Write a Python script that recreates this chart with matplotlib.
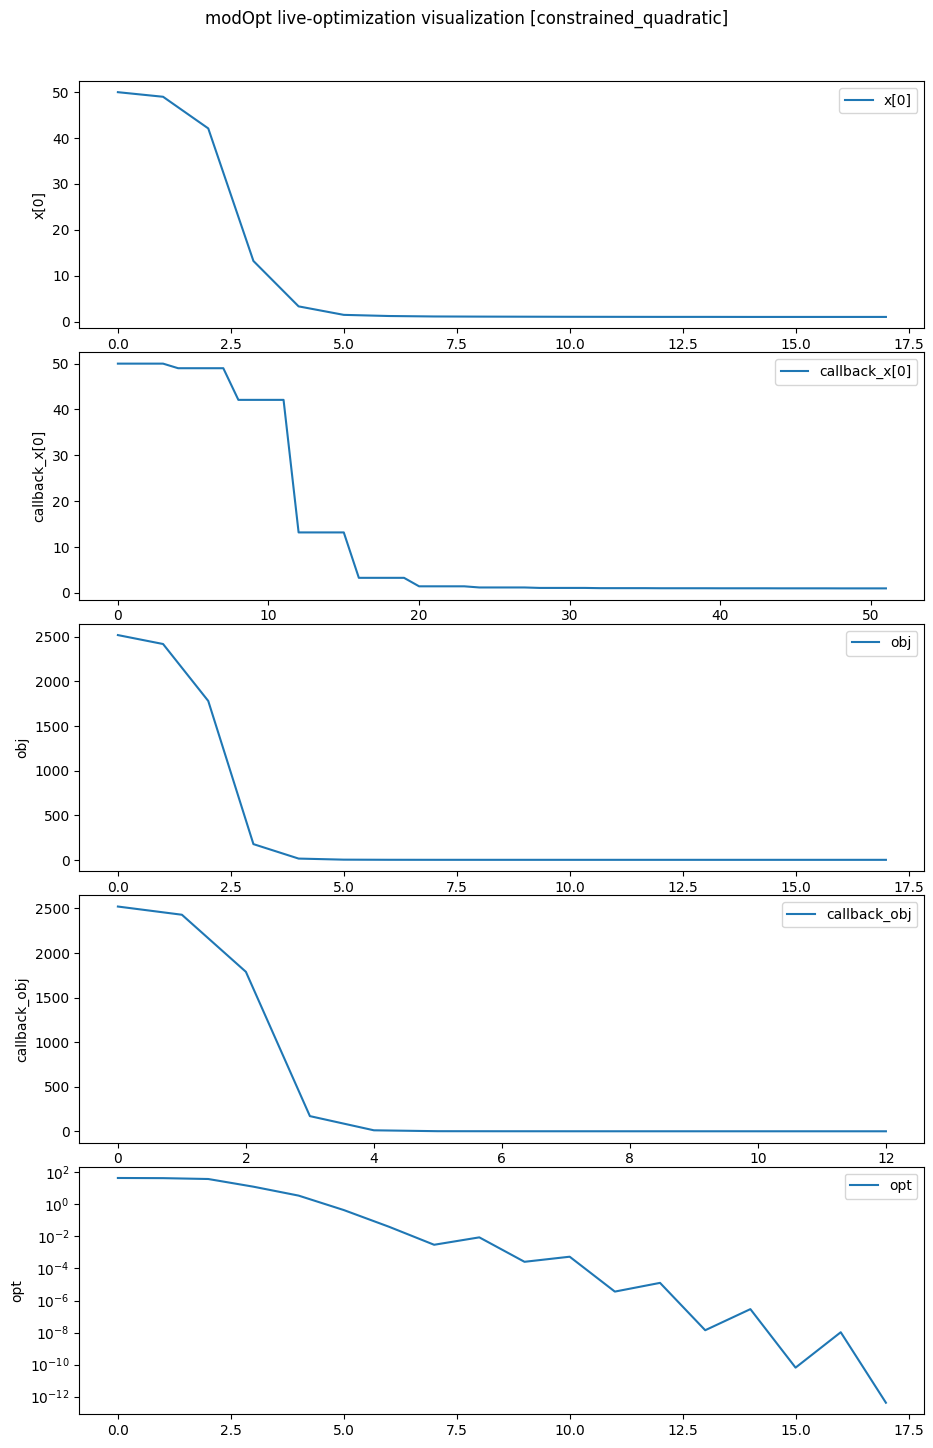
import numpy as np
import matplotlib
matplotlib.use("Agg")
import matplotlib.pyplot as plt

# values (per iteration / per callback)
x0 = [50.0, 49.0, 42.1, 13.2, 3.3, 1.45, 1.2, 1.1, 1.07, 1.05, 1.03, 1.02,
      1.01, 1.01, 1.0, 1.0, 1.0, 1.0]

callback_x0 = [50.0, 50.0, 50.0, 50.0, 49.0, 49.0, 49.0, 49.0,
               42.1, 42.1, 42.1, 42.1, 13.2, 13.2, 13.2, 13.2,
               3.3, 3.3, 3.3, 3.3, 1.45, 1.45, 1.45, 1.45,
               1.2, 1.2, 1.2, 1.2, 1.1, 1.1, 1.1, 1.1,
               1.05, 1.05, 1.05, 1.05, 1.03, 1.03, 1.03, 1.03,
               1.02, 1.02, 1.02, 1.02, 1.01, 1.01, 1.01, 1.01,
               1.0, 1.0, 1.0, 1.0]

obj = [2520, 2420, 1782, 178, 16, 4.0, 2.5, 2.2, 2.1, 2.05, 2.03, 2.02,
       2.01, 2.0, 2.0, 2.0, 2.0, 2.0]

callback_obj = [2522, 2430, 1790, 172, 13, 3.0, 2.4, 2.2, 2.1, 2.05, 2.02,
                2.01, 2.0]

opt = [44, 43, 38, 12.6, 3.5, 0.44, 0.04, 0.003, 0.0087, 2.6e-4, 5.4e-4,
       3.6e-6, 1.26e-5, 1.4e-8, 2.9e-7, 6.5e-11, 1.05e-8, 4.2e-13]

series = [("x[0]", x0), ("callback_x[0]", callback_x0), ("obj", obj),
          ("callback_obj", callback_obj), ("opt", opt)]

fig, axes = plt.subplots(5, 1, figsize=(9.33, 14.48), dpi=100)
fig.subplots_adjust(left=0.0852, right=0.9907, top=0.9441, bottom=0.0235,
                    hspace=0.098)

for ax, (name, vals) in zip(axes, series):
    ax.plot(np.arange(len(vals)), vals, color="tab:blue", label=name)
    ax.set_ylabel(name)
    ax.legend(loc="upper right")

axes[-1].set_yscale("log")

fig.suptitle("modOpt live-optimization visualization [constrained_quadratic]",
             y=0.993)

fig.savefig("out.png", dpi=100)
